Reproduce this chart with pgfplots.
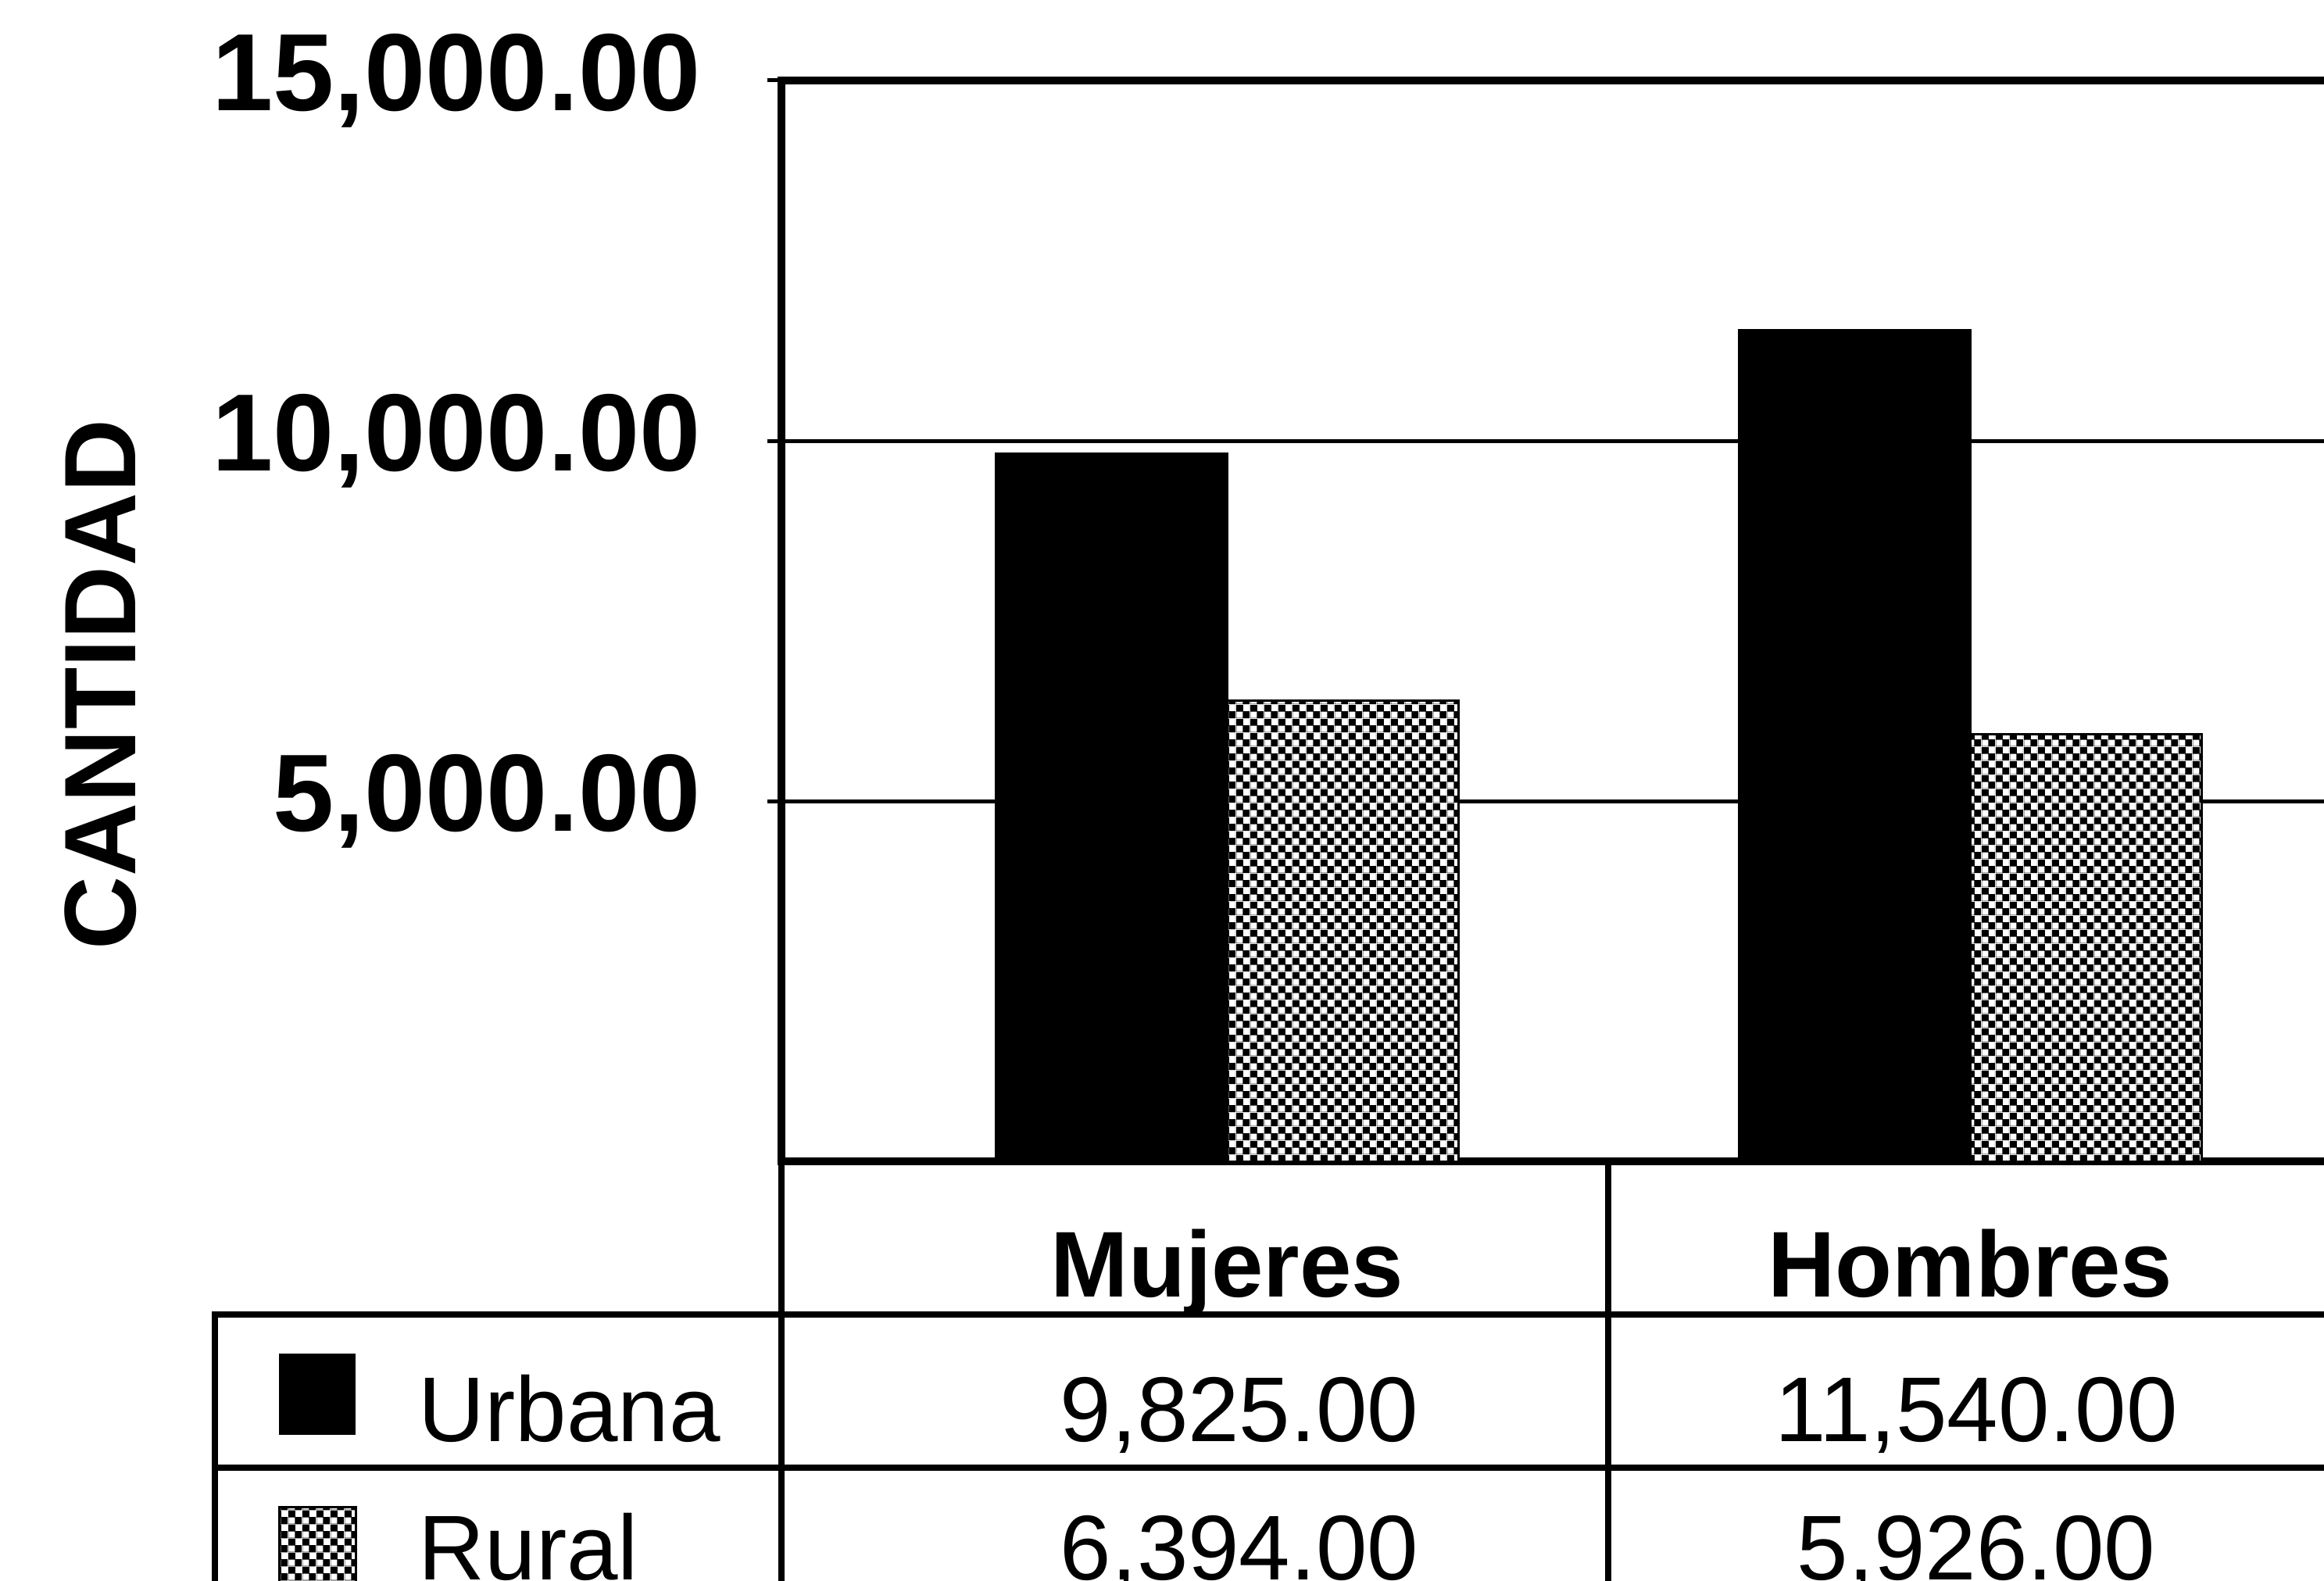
\documentclass[border=0pt]{standalone}
\usepackage{fontspec}
\setmainfont{Liberation Sans}
\usepackage{pgfplots}
\pgfplotsset{compat=1.18}
\usetikzlibrary{patterns}

% dotted fill of the Rural bars
\pgfdeclarepatternformonly{ruralpat}{\pgfqpoint{0pt}{0pt}}{\pgfqpoint{5pt}{5pt}}{\pgfqpoint{5pt}{5pt}}{%
  \pgfseteorule
  \pgfpathrectangle{\pgfqpoint{0pt}{0pt}}{\pgfqpoint{5pt}{5pt}}%
  \pgfpathrectangle{\pgfqpoint{0.1pt}{0.1pt}}{\pgfqpoint{2.35pt}{2.35pt}}%
  \pgfpathrectangle{\pgfqpoint{2.6pt}{2.6pt}}{\pgfqpoint{2.35pt}{2.35pt}}%
  \pgfusepath{fill}}

\newcommand\lblfont{\bfseries\fontsize{40}{46}\selectfont}
\newcommand\tabfont{\fontsize{33.5}{40}\selectfont}

\begin{document}
\begin{tikzpicture}
\path[use as bounding box] (0,0) rectangle (297.4mm,202.2mm);
\clip (0,0) rectangle (297.4mm,202.2mm);

\begin{axis}[
    at={(100mm,53.6mm)}, anchor=south west,
    scale only axis,
    width=209.2mm, height=138.3mm,
    ybar=0pt, bar width=29.6mm,
    xmin=-0.6, xmax=1.6,
    ymin=0, ymax=15000,
    xtick={0,1}, xticklabels={Mujeres,Hombres},
    x tick style={draw=none},
    xticklabel style={font=\bfseries\fontsize{34}{40}\selectfont, anchor=base, yshift=-15.5mm},
    ytick={5000,10000,15000},
    y tick style={line width=0.5mm, black},
    tick align=outside, major tick length=1.8mm,
    yticklabel style={font=\lblfont, xshift=-7.3mm},
    /pgf/number format/fixed,
    /pgf/number format/fixed zerofill,
    /pgf/number format/precision=2,
    /pgf/number format/1000 sep={,},
    /pgf/number format/assume math mode=true,
    scaled y ticks=false,
    ymajorgrids,
    grid style={line width=0.5mm, black},
    axis line style={line width=1.0mm},
    clip=false,
]
\addplot[fill=black, draw=black, line width=0.3mm] coordinates {(0,9825) (1,11540)};
\addplot[fill=white, postaction={pattern=ruralpat, pattern color=black}, draw=black, line width=0.3mm] coordinates {(0,6394) (1,5926)};
\end{axis}

% y axis title
\node[rotate=90, font=\bfseries\fontsize{37}{44}\selectfont] at (12.9mm,114.6mm) {CANTIDAD};

% data table below the plot
\begin{scope}[line width=0.8mm]
\draw (100mm,53.6mm) -- (100mm,-5mm);
\draw (205.8mm,53.6mm) -- (205.8mm,-5mm);
\draw (27.5mm,-5mm) -- (27.5mm,34.0mm) -- (300mm,34.0mm);
\draw (27.5mm,14.4mm) -- (300mm,14.4mm);
\end{scope}

\fill[black] (35.7mm,18.6mm) rectangle (45.5mm,29.0mm);
\filldraw[fill=white, postaction={pattern=ruralpat, pattern color=black}, draw=black, line width=0.3mm] (35.7mm,-1.0mm) rectangle (45.5mm,9.4mm);

\begin{scope}[every node/.style={font=\tabfont, inner sep=0}]
\node[anchor=base west] at (53.5mm,17.8mm) {Urbana};
\node[anchor=base west] at (53.5mm,0.1mm) {Rural};
\node[anchor=base] at (158.6mm,17.8mm) {9,825.00};
\node[anchor=base] at (252.9mm,17.8mm) {11,540.00};
\node[anchor=base] at (158.6mm,0.1mm) {6,394.00};
\node[anchor=base] at (252.9mm,0.1mm) {5,926.00};
\end{scope}
\end{tikzpicture}
\end{document}
